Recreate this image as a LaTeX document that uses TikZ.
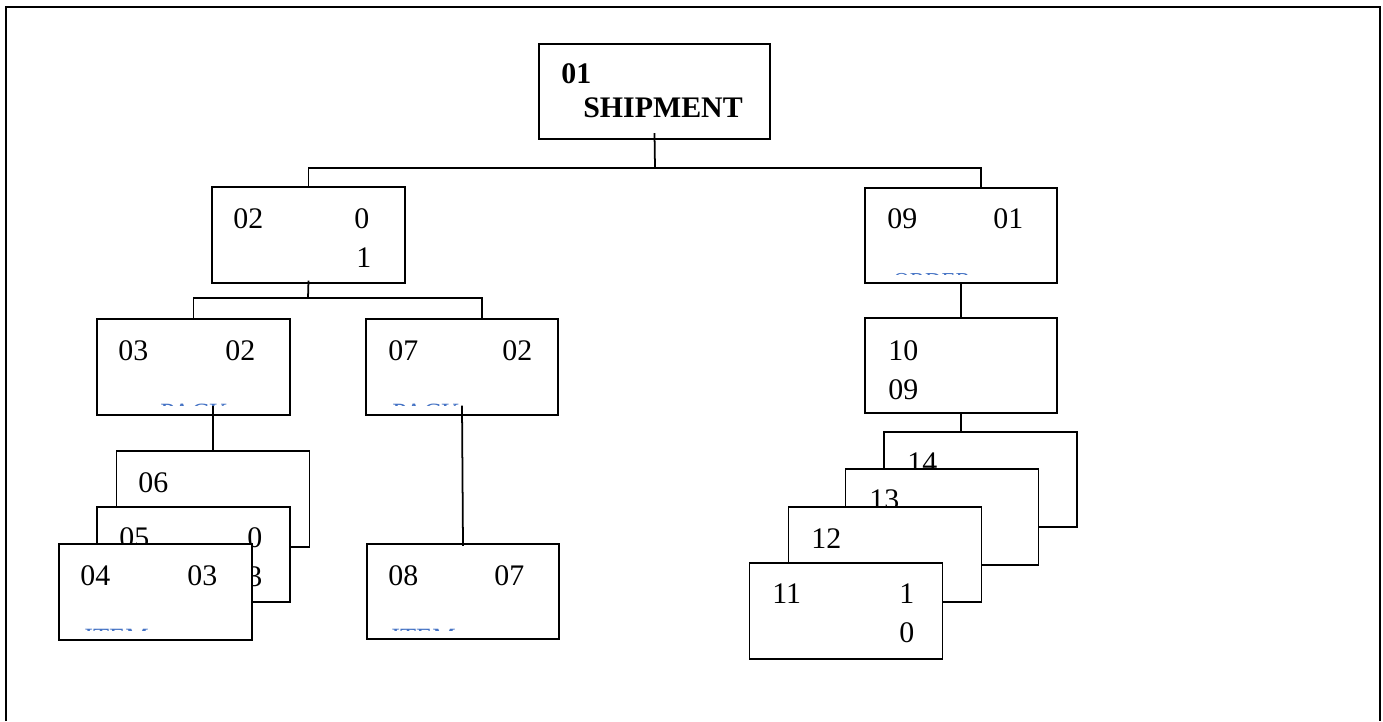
\documentclass[tikz,border=0pt]{standalone}
\usepackage{fontspec}
\setmainfont{Liberation Serif}
\usetikzlibrary{calc}
\definecolor{captionblue}{RGB}{68,114,196}
\newcommand{\boxfont}{\fontsize{17}{22}\selectfont}
\newcommand{\tagfont}{\fontsize{15}{18}\selectfont}

\begin{document}
\begin{tikzpicture}[x=0.02cm, y=-0.02cm,
    record/.style={rectangle, draw, fill=white, line width=1pt, minimum width=3.86cm, minimum height=1.91cm, inner sep=0pt},
    num/.style={anchor=base west, inner sep=0pt, font=\boxfont},
    tag/.style={anchor=base west, inner sep=0pt, font=\tagfont, text=captionblue},
    link/.style={line width=1pt}
]
    \useasboundingbox (0,0) rectangle (1383,721);
    \draw[line width=1.2pt] (6,721) -- (6,7) -- (1380,7) -- (1380,721);

    % top level
    \node[record, minimum width=4.62cm] (b01) at (654.5,91.5) {};
    \node[num, font=\boxfont\bfseries] (t01) at (561,83) {01};
    \node[num, font=\boxfont\bfseries] (t01n) at (583,117) {SHIPMENT};

    % left branch
    \node[record] (b02) at (308.5,235) {};
    \node[num] (t02) at (233,228) {02};
    \node[num] (t02a) at (354,228) {0};
    \node[num] (t02b) at (356,267) {1};

    \node[record] (b03) at (193.5,367) {};
    \node[num] (t03) at (118,360) {03};
    \node[num] (t03a) at (225,360) {02};
    \begin{scope}
        \clip (150,403.5) rectangle (240,405.8);
        \node[tag] (l03) at (160,421.5) {PACK};
    \end{scope}

    \node[record, minimum width=3.84cm] (b07) at (462,367) {};
    \node[num] (t07) at (388,360) {07};
    \node[num] (t07a) at (502,360) {02};
    \begin{scope}
        \clip (380,403.5) rectangle (470,405.8);
        \node[tag] (l07) at (392,421.5) {PACK};
    \end{scope}

    % stacked items under 03
    \node[record] (b06) at (213,499) {};
    \node[num] (t06) at (138,492) {06};

    \node[record] (b05) at (193.5,554.5) {};
    \node[num] (t05) at (119,547) {05};
    \node[num] (t05a) at (247,547) {0};
    \node[num] (t05b) at (247,586) {3};

    \node[record] (b04) at (155.5,592) {};
    \node[num] (t04) at (80,585) {04};
    \node[num] (t04a) at (187,585) {03};
    \begin{scope}
        \clip (75,628.5) rectangle (160,630.8);
        \node[tag] (l04) at (84,646.5) {ITEM};
    \end{scope}

    \node[record, minimum width=3.84cm] (b08) at (463,591.5) {};
    \node[num] (t08) at (388,585) {08};
    \node[num] (t08a) at (494,585) {07};
    \begin{scope}
        \clip (380,628.5) rectangle (470,630.8);
        \node[tag] (l08) at (391,646.5) {ITEM};
    \end{scope}

    % right branch
    \node[record, minimum width=3.84cm] (b09) at (961,235.5) {};
    \node[num] (t09) at (887,228) {09};
    \node[num] (t09a) at (993,228) {01};
    \begin{scope}
        \clip (880,272.5) rectangle (1000,274.8);
        \node[tag, font=\fontsize{13}{16}\selectfont] (l09) at (893,288.2) {ORDER};
    \end{scope}

    \node[record, minimum width=3.84cm] (b10) at (961,365.5) {};
    \node[num] (t10) at (888,360) {10};
    \node[num] (t10a) at (888,399) {09};

    % stacked items under 10
    \node[record] (b14) at (980.5,479.5) {};
    \node[num] (t14) at (907,472) {14};

    \node[record] (b13) at (942,517) {};
    \node[num] (t13) at (869,509) {13};

    \node[record] (b12) at (885,554.5) {};
    \node[num] (t12) at (811,548) {12};

    \node[record] (b11) at (846,611) {};
    \node[num] (t11) at (772,603) {11};
    \node[num] (t11a) at (899,603) {1};
    \node[num] (t11b) at (899,642) {0};

    % connectors
    \coordinate (j1) at (655,168);
    \coordinate (j2) at (308,298);
    \draw[link] ($(b01.south)+(0,-7)$) -- (j1);
    \draw[link] (b02.north) |- (j1) -| ([xshift=0.4cm]b09.north);
    \draw[link] ($(b02.south)+(0,-3)$) -- (j2);
    \draw[link] (b03.north) |- (j2) -| ([xshift=0.4cm]b07.north);
    \draw[link] ($(b06.north |- b03.south)+(0,-10)$) -- (b06.north);
    \draw[link] ($(b07.south)+(0,-10)$) -- ($(b08.north)+(0,3)$);
    \draw[link] ($(b09.south)+(0,-2)$) -- (b10.north);
    \draw[link] ($(b10.south)+(0,-2)$) -- (b10.south |- b14.north);
\end{tikzpicture}
\end{document}
